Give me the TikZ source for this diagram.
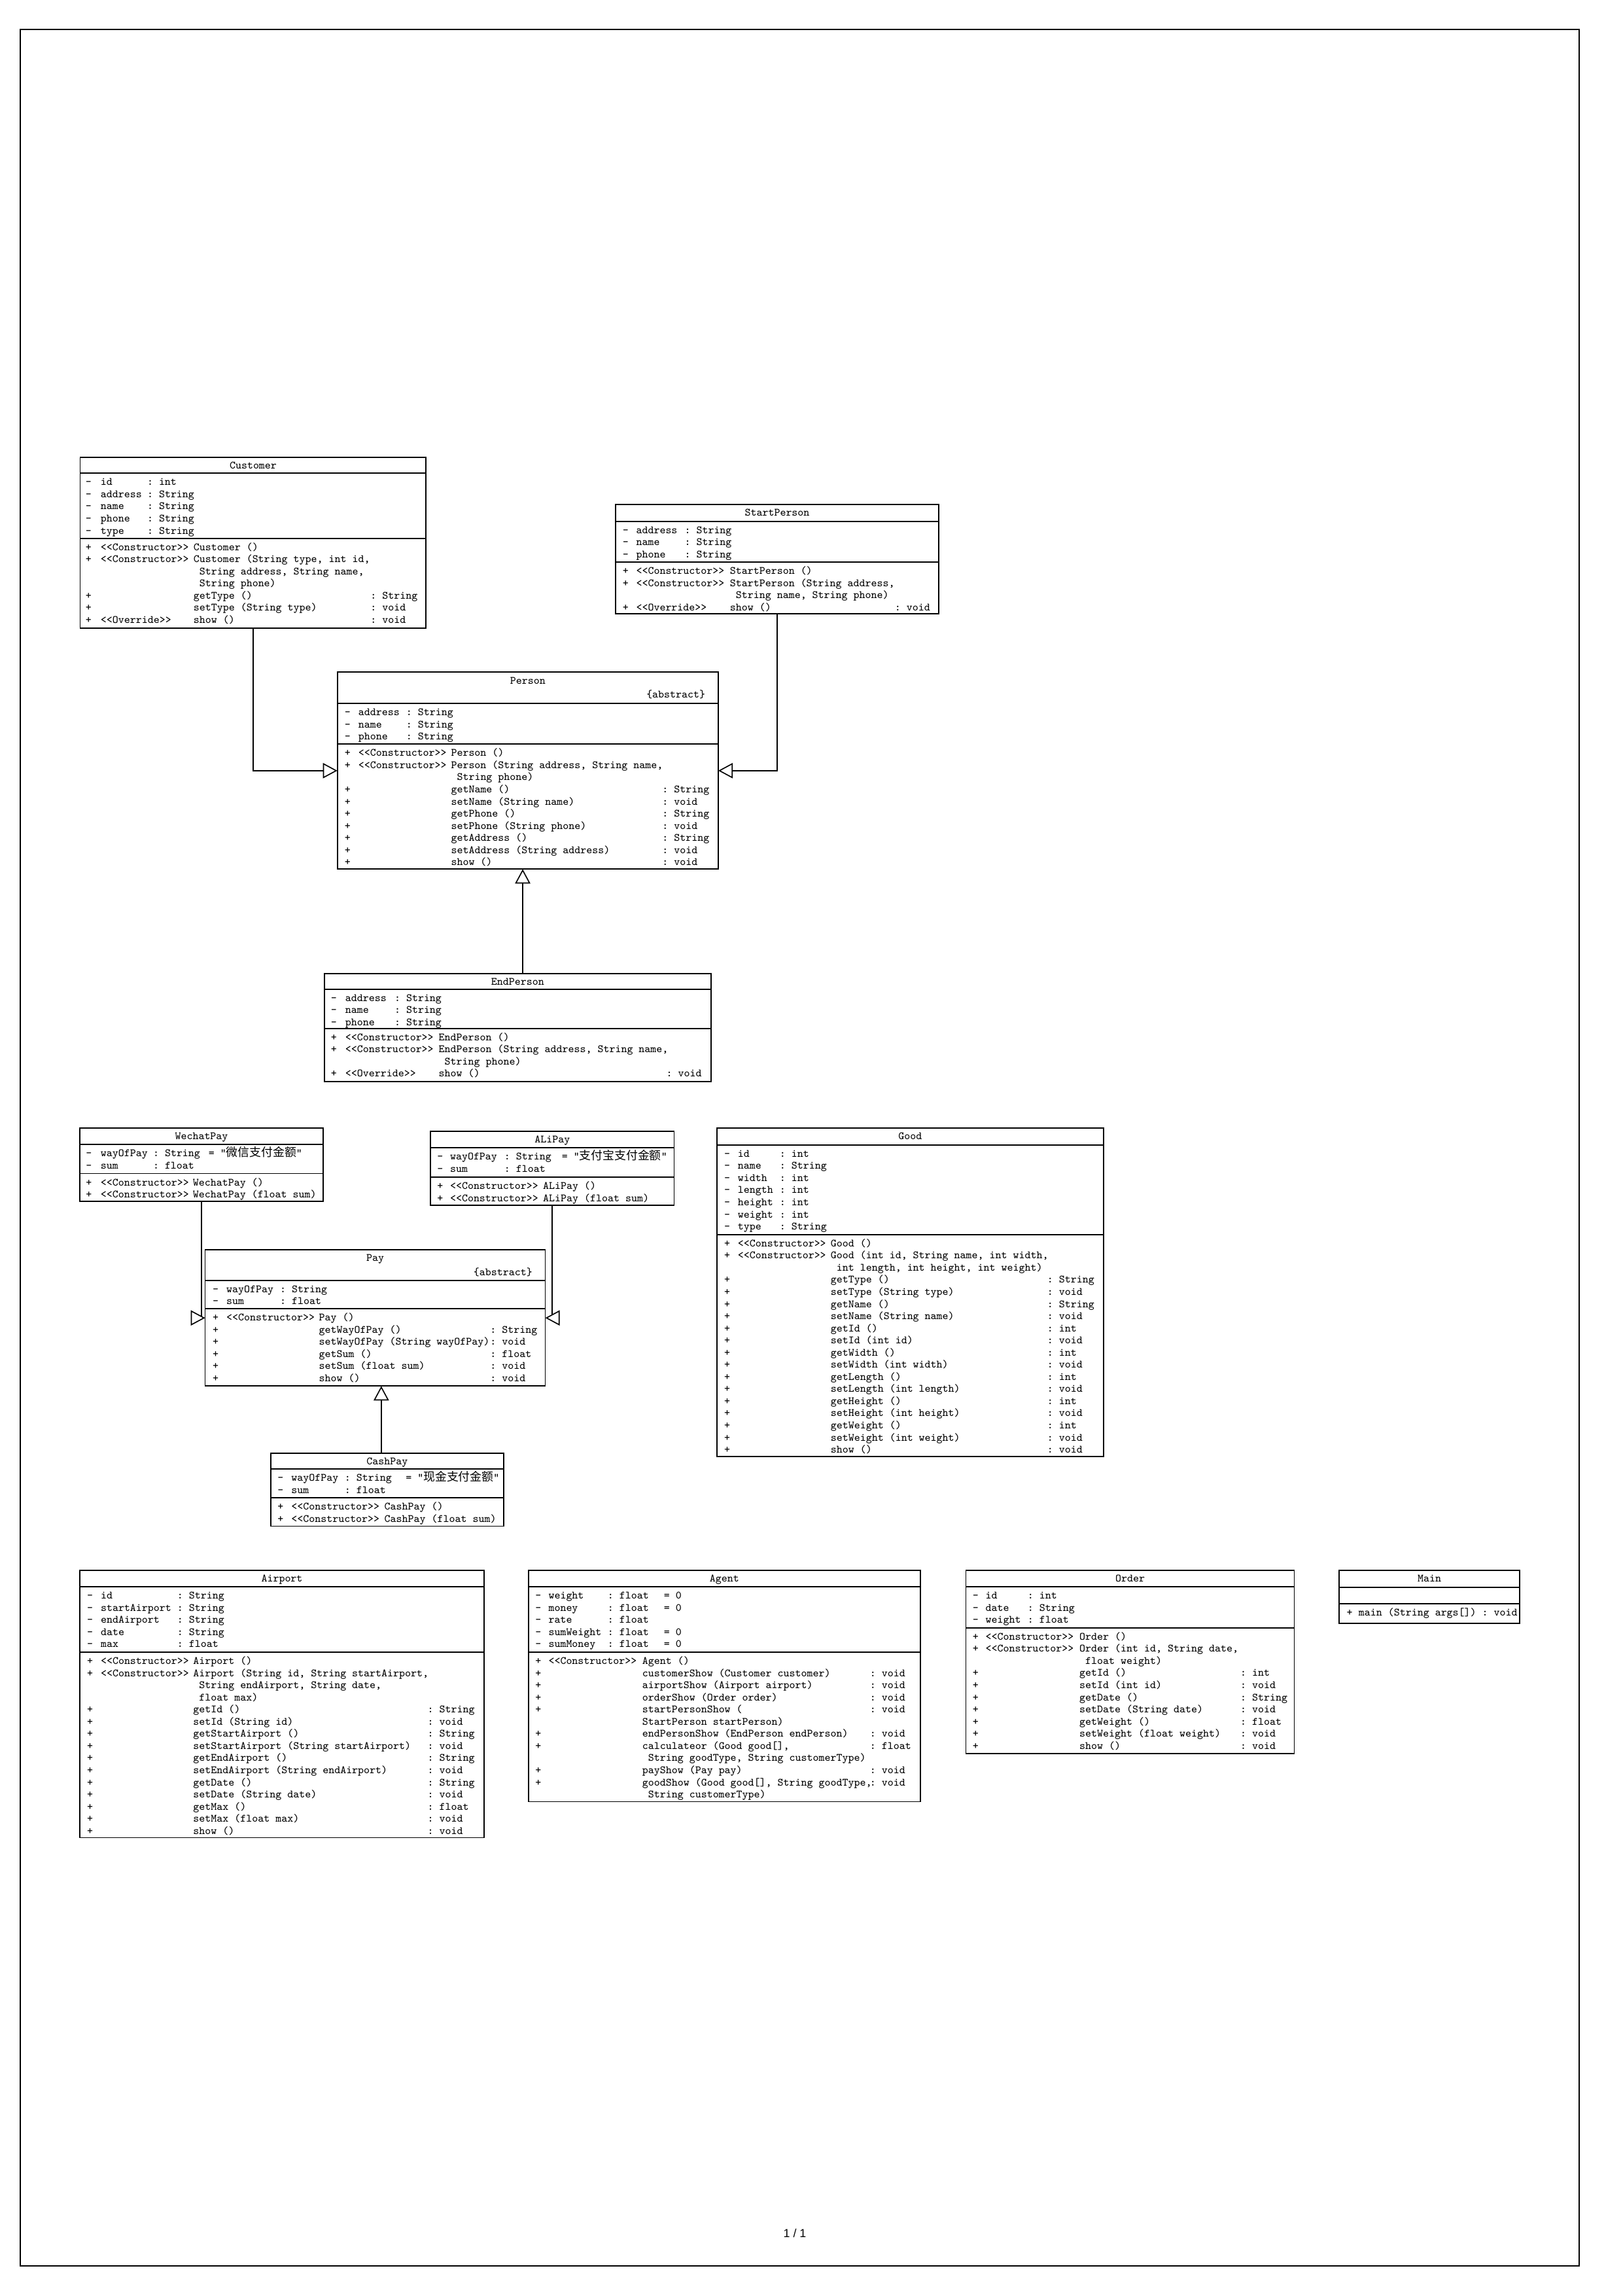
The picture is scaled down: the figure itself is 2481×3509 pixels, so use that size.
\documentclass[tikz,border=0pt]{standalone}
\usepackage{fontspec}
\setmonofont{Latin Modern Mono}
\newfontfamily\cjkfont{Noto Sans CJK SC}
\newfontfamily\footfont{Liberation Sans}
\usetikzlibrary{arrows.meta,fit}
\setlength{\unitlength}{0.2409pt}
\newcommand\umlfont{\ttfamily\fontsize{4.08pt}{4.47pt}\selectfont}
\newcommand\zh[1]{{\cjkfont\fontsize{4.3pt}{4.47pt}\selectfont #1}}
\newcommand\umlstrut{\vrule height 3.2pt depth 1.27pt width 0pt}
\newcommand\cols[3]{\def\wA{#1\unitlength}\def\wB{#2\unitlength}\def\wC{#3\unitlength}}
\newcommand\ur[4]{\hbox{\umlstrut\hbox to \wA{#1\hfil}\hbox to \wB{#2\hfil}\hbox to \wC{#3\hfil}#4}}
\newcommand\ind{\hphantom{x}}
\newcommand\umlbox[7]{%
  \path (#2,#3) coordinate (#1-nw) (#4,#5) coordinate (#1-se);
  \node[umlcls, fit=(#1-nw)(#1-se)] (#1) {};
  \draw[line width=0.4pt] (#2,#6) -- (#4,#6) (#2,#7) -- (#4,#7);
}
\tikzset{
  umlcls/.style={draw, line width=0.4pt, inner sep=0pt, outer sep=0pt},
  txt/.style={inner sep=0pt, anchor=base west, font=\umlfont},
  ttl/.style={inner sep=0pt, anchor=base, font=\umlfont},
  inh/.style={draw, line width=0.4pt, -{Triangle[fill=white, length=5.3pt, width=5.6pt]}}
}
\begin{document}
\begin{tikzpicture}[x=0.2409pt, y=-0.2409pt]
\useasboundingbox (0,0) rectangle (2481,3509);
\draw[line width=0.45pt] (31,45) rectangle (2414,3463);
\node[inner sep=0pt, font=\footfont\fontsize{4.3pt}{5pt}\selectfont] (footer) at (1215,3413) {1 / 1};

% ---------------- Customer
\umlbox{customer}{122.6}{699}{651.3}{960}{723.3}{822.7}
\node[ttl] (customer-t) at (387,716.5) {Customer};
\node[txt] (customer-a) at (130,741.8) {\cols{23}{71.2}{300}\vtop{
\ur{-}{id}{: int}{}
\ur{-}{address}{: String}{}
\ur{-}{name}{: String}{}
\ur{-}{phone}{: String}{}
\ur{-}{type}{: String}{}}};
\node[txt] (customer-m) at (130,841.2) {\cols{23}{142}{270.5}\vtop{
\ur{+}{<<Constructor>>}{Customer ()}{}
\ur{+}{<<Constructor>>}{Customer (String type, int id,}{}
\ur{}{}{\ind String address, String name,}{}
\ur{}{}{\ind String phone)}{}
\ur{+}{}{getType ()}{: String}
\ur{+}{}{setType (String type)}{: void}
\ur{+}{<<Override>>}{show ()}{: void}}};

% ---------------- StartPerson
\umlbox{startperson}{941}{771}{1435}{938.3}{796.7}{859}
\node[ttl] (startperson-t) at (1188,788.5) {StartPerson};
\node[txt] (startperson-a) at (951,815.2) {\cols{20.7}{74}{300}\vtop{
\ur{-}{address}{: String}{}
\ur{-}{name}{: String}{}
\ur{-}{phone}{: String}{}}};
\node[txt] (startperson-m) at (951,877.5) {\cols{20.7}{143.3}{252}\vtop{
\ur{+}{<<Constructor>>}{StartPerson ()}{}
\ur{+}{<<Constructor>>}{StartPerson (String address,}{}
\ur{}{}{\ind String name, String phone)}{}
\ur{+}{<<Override>>}{show ()}{: void}}};

% ---------------- Person
\umlbox{person}{515.7}{1027.3}{1098}{1328.3}{1075}{1137.3}
\node[ttl] (person-t) at (806.9,1045) {Person};
\node[inner sep=0pt, anchor=base east, font=\umlfont] (person-s) at (1079,1066.7) {\{abstract\}};
\node[txt] (person-a) at (526,1093.5) {\cols{21}{73}{300}\vtop{
\ur{-}{address}{: String}{}
\ur{-}{name}{: String}{}
\ur{-}{phone}{: String}{}}};
\node[txt] (person-m) at (526,1155.8) {\cols{21}{141.7}{322.8}\vtop{
\ur{+}{<<Constructor>>}{Person ()}{}
\ur{+}{<<Constructor>>}{Person (String address, String name,}{}
\ur{}{}{\ind String phone)}{}
\ur{+}{}{getName ()}{: String}
\ur{+}{}{setName (String name)}{: void}
\ur{+}{}{getPhone ()}{: String}
\ur{+}{}{setPhone (String phone)}{: void}
\ur{+}{}{getAddress ()}{: String}
\ur{+}{}{setAddress (String address)}{: void}
\ur{+}{}{show ()}{: void}}};

% ---------------- EndPerson
\umlbox{endperson}{495.7}{1488.3}{1087}{1653}{1511.7}{1571.7}
\node[ttl] (endperson-t) at (791.3,1505.8) {EndPerson};
\node[txt] (endperson-a) at (505,1530.2) {\cols{22}{75.2}{300}\vtop{
\ur{-}{address}{: String}{}
\ur{-}{name}{: String}{}
\ur{-}{phone}{: String}{}}};
\node[txt] (endperson-m) at (505,1590.2) {\cols{22}{142.9}{348}\vtop{
\ur{+}{<<Constructor>>}{EndPerson ()}{}
\ur{+}{<<Constructor>>}{EndPerson (String address, String name,}{}
\ur{}{}{\ind String phone)}{}
\ur{+}{<<Override>>}{show ()}{: void}}};

% ---------------- WechatPay
\umlbox{wechat}{122}{1724}{494}{1836}{1749}{1793.5}
\node[ttl] (wechat-t) at (308,1741.5) {WechatPay};
\node[txt] (wechat-a) at (130.6,1767.5) {\cols{22.5}{80.1}{84.8}\vtop{
\ur{-}{wayOfPay}{: String}{= "\zh{微信支付金额}"}
\ur{-}{sum}{: float}{}}};
\node[txt] (wechat-m) at (130.6,1812) {\cols{22.5}{140.9}{300}\vtop{
\ur{+}{<<Constructor>>}{WechatPay ()}{}
\ur{+}{<<Constructor>>}{WechatPay (float sum)}{}}};

% ---------------- ALiPay
\umlbox{alipay}{658}{1729}{1030.5}{1842}{1754}{1799}
\node[ttl] (alipay-t) at (844.3,1746.5) {ALiPay};
\node[txt] (alipay-a) at (667.6,1772.5) {\cols{19.6}{82.8}{88}\vtop{
\ur{-}{wayOfPay}{: String}{= "\zh{支付宝支付金额}"}
\ur{-}{sum}{: float}{}}};
\node[txt] (alipay-m) at (667.6,1817.5) {\cols{19.6}{142.2}{300}\vtop{
\ur{+}{<<Constructor>>}{ALiPay ()}{}
\ur{+}{<<Constructor>>}{ALiPay (float sum)}{}}};

% ---------------- Pay
\umlbox{pay}{313.6}{1910}{833.6}{2118.3}{1956.7}{2000}
\node[ttl] (pay-t) at (573.6,1927.7) {Pay};
\node[inner sep=0pt, anchor=base east, font=\umlfont] (pay-s) at (814.6,1949.3) {\{abstract\}};
\node[txt] (pay-a) at (324.3,1975.2) {\cols{21}{82.1}{300}\vtop{
\ur{-}{wayOfPay}{: String}{}
\ur{-}{sum}{: float}{}}};
\node[txt] (pay-m) at (324.3,2018.5) {\cols{21}{141.5}{261.8}\vtop{
\ur{+}{<<Constructor>>}{Pay ()}{}
\ur{+}{}{getWayOfPay ()}{: String}
\ur{+}{}{setWayOfPay (String wayOfPay)}{: void}
\ur{+}{}{getSum ()}{: float}
\ur{+}{}{setSum (float sum)}{: void}
\ur{+}{}{show ()}{: void}}};

% ---------------- CashPay
\umlbox{cashpay}{413.8}{2220.7}{769.9}{2332.3}{2245}{2289}
\node[ttl] (cashpay-t) at (591.9,2238.2) {CashPay};
\node[txt] (cashpay-a) at (423.5,2263.5) {\cols{21}{81.5}{93.5}\vtop{
\ur{-}{wayOfPay}{: String}{= "\zh{现金支付金额}"}
\ur{-}{sum}{: float}{}}};
\node[txt] (cashpay-m) at (423.5,2307.5) {\cols{21}{142.4}{300}\vtop{
\ur{+}{<<Constructor>>}{CashPay ()}{}
\ur{+}{<<Constructor>>}{CashPay (float sum)}{}}};

% ---------------- Good
\umlbox{good}{1095.7}{1724.3}{1687}{2226}{1749.7}{1886.7}
\node[ttl] (good-t) at (1391.4,1741.8) {Good};
\node[txt] (good-a) at (1106.4,1768.2) {\cols{20.6}{64}{300}\vtop{
\ur{-}{id}{: int}{}
\ur{-}{name}{: String}{}
\ur{-}{width}{: int}{}
\ur{-}{length}{: int}{}
\ur{-}{height}{: int}{}
\ur{-}{weight}{: int}{}
\ur{-}{type}{: String}{}}};
\node[txt] (good-m) at (1106.4,1905.2) {\cols{20.6}{142}{331}\vtop{
\ur{+}{<<Constructor>>}{Good ()}{}
\ur{+}{<<Constructor>>}{Good (int id, String name, int width,}{}
\ur{}{}{\ind int length, int height, int weight)}{}
\ur{+}{}{getType ()}{: String}
\ur{+}{}{setType (String type)}{: void}
\ur{+}{}{getName ()}{: String}
\ur{+}{}{setName (String name)}{: void}
\ur{+}{}{getId ()}{: int}
\ur{+}{}{setId (int id)}{: void}
\ur{+}{}{getWidth ()}{: int}
\ur{+}{}{setWidth (int width)}{: void}
\ur{+}{}{getLength ()}{: int}
\ur{+}{}{setLength (int length)}{: void}
\ur{+}{}{getHeight ()}{: int}
\ur{+}{}{setHeight (int height)}{: void}
\ur{+}{}{getWeight ()}{: int}
\ur{+}{}{setWeight (int weight)}{: void}
\ur{+}{}{show ()}{: void}}};

% ---------------- Airport
\umlbox{airport}{122.2}{2400}{739.8}{2808.3}{2425}{2525}
\node[ttl] (airport-t) at (431,2417.5) {Airport};
\node[txt] (airport-a) at (132.3,2443.5) {\cols{20.9}{116.8}{300}\vtop{
\ur{-}{id}{: String}{}
\ur{-}{startAirport}{: String}{}
\ur{-}{endAirport}{: String}{}
\ur{-}{date}{: String}{}
\ur{-}{max}{: float}{}}};
\node[txt] (airport-m) at (132.3,2543.5) {\cols{20.9}{141.4}{358.2}\vtop{
\ur{+}{<<Constructor>>}{Airport ()}{}
\ur{+}{<<Constructor>>}{Airport (String id, String startAirport,}{}
\ur{}{}{\ind String endAirport, String date,}{}
\ur{}{}{\ind float max)}{}
\ur{+}{}{getId ()}{: String}
\ur{+}{}{setId (String id)}{: void}
\ur{+}{}{getStartAirport ()}{: String}
\ur{+}{}{setStartAirport (String startAirport)}{: void}
\ur{+}{}{getEndAirport ()}{: String}
\ur{+}{}{setEndAirport (String endAirport)}{: void}
\ur{+}{}{getDate ()}{: String}
\ur{+}{}{setDate (String date)}{: void}
\ur{+}{}{getMax ()}{: float}
\ur{+}{}{setMax (float max)}{: void}
\ur{+}{}{show ()}{: void}}};

% ---------------- Agent
\umlbox{agent}{807.8}{2400}{1407}{2753.3}{2425}{2525}
\node[ttl] (agent-t) at (1107.4,2417.5) {Agent};
\node[txt] (agent-a) at (817.5,2443.5) {\cols{20.2}{90.3}{86}\vtop{
\ur{-}{weight}{: float}{= 0}
\ur{-}{money}{: float}{= 0}
\ur{-}{rate}{: float}{}
\ur{-}{sumWeight}{: float}{= 0}
\ur{-}{sumMoney}{: float}{= 0}}};
\node[txt] (agent-m) at (817.5,2543.5) {\cols{20.2}{143.3}{348}\vtop{
\ur{+}{<<Constructor>>}{Agent ()}{}
\ur{+}{}{customerShow (Customer customer)}{: void}
\ur{+}{}{airportShow (Airport airport)}{: void}
\ur{+}{}{orderShow (Order order)}{: void}
\ur{+}{}{startPersonShow (}{: void}
\ur{}{}{StartPerson startPerson)}{}
\ur{+}{}{endPersonShow (EndPerson endPerson)}{: void}
\ur{+}{}{calculateor (Good good[],}{: float}
\ur{}{}{\ind String goodType, String customerType)}{}
\ur{+}{}{payShow (Pay pay)}{: void}
\ur{+}{}{goodShow (Good good[], String goodType,}{: void}
\ur{}{}{\ind String customerType)}{}}};

% ---------------- Order
\umlbox{order}{1476.6}{2400}{1978.5}{2680}{2425}{2487.7}
\node[ttl] (order-t) at (1727.5,2417.5) {Order};
\node[txt] (order-a) at (1486,2443.5) {\cols{19.7}{64.3}{300}\vtop{
\ur{-}{id}{: int}{}
\ur{-}{date}{: String}{}
\ur{-}{weight}{: float}{}}};
\node[txt] (order-m) at (1486,2506.2) {\cols{19.7}{143.7}{246}\vtop{
\ur{+}{<<Constructor>>}{Order ()}{}
\ur{+}{<<Constructor>>}{Order (int id, String date,}{}
\ur{}{}{\ind float weight)}{}
\ur{+}{}{getId ()}{: int}
\ur{+}{}{setId (int id)}{: void}
\ur{+}{}{getDate ()}{: String}
\ur{+}{}{setDate (String date)}{: void}
\ur{+}{}{getWeight ()}{: float}
\ur{+}{}{setWeight (float weight)}{: void}
\ur{+}{}{show ()}{: void}}};

% ---------------- Main
\umlbox{main}{2047}{2400}{2323}{2480.7}{2425.7}{2451}
\node[ttl] (main-t) at (2185,2417.5) {Main};
\node[txt] (main-m) at (2057.7,2469.5) {\cols{18.3}{300}{0}\vtop{
\ur{+}{main (String args[]) : void}{}{}}};

% ---------------- generalizations
\draw[inh] (customer.south) |- (person.west);
\draw[inh] (startperson.south) |- (person.east);
\path (endperson.north) ++(7.7,0) coordinate (ep-up);
\draw[inh] (ep-up) -- (ep-up |- person.south);
\draw[inh] (wechat.south) |- (pay.west);
\draw[inh] (alipay.south) |- (pay.east);
\path (cashpay.north) ++(-9,0) coordinate (cp-up);
\draw[inh] (cp-up) -- (cp-up |- pay.south);
\end{tikzpicture}
\end{document}
